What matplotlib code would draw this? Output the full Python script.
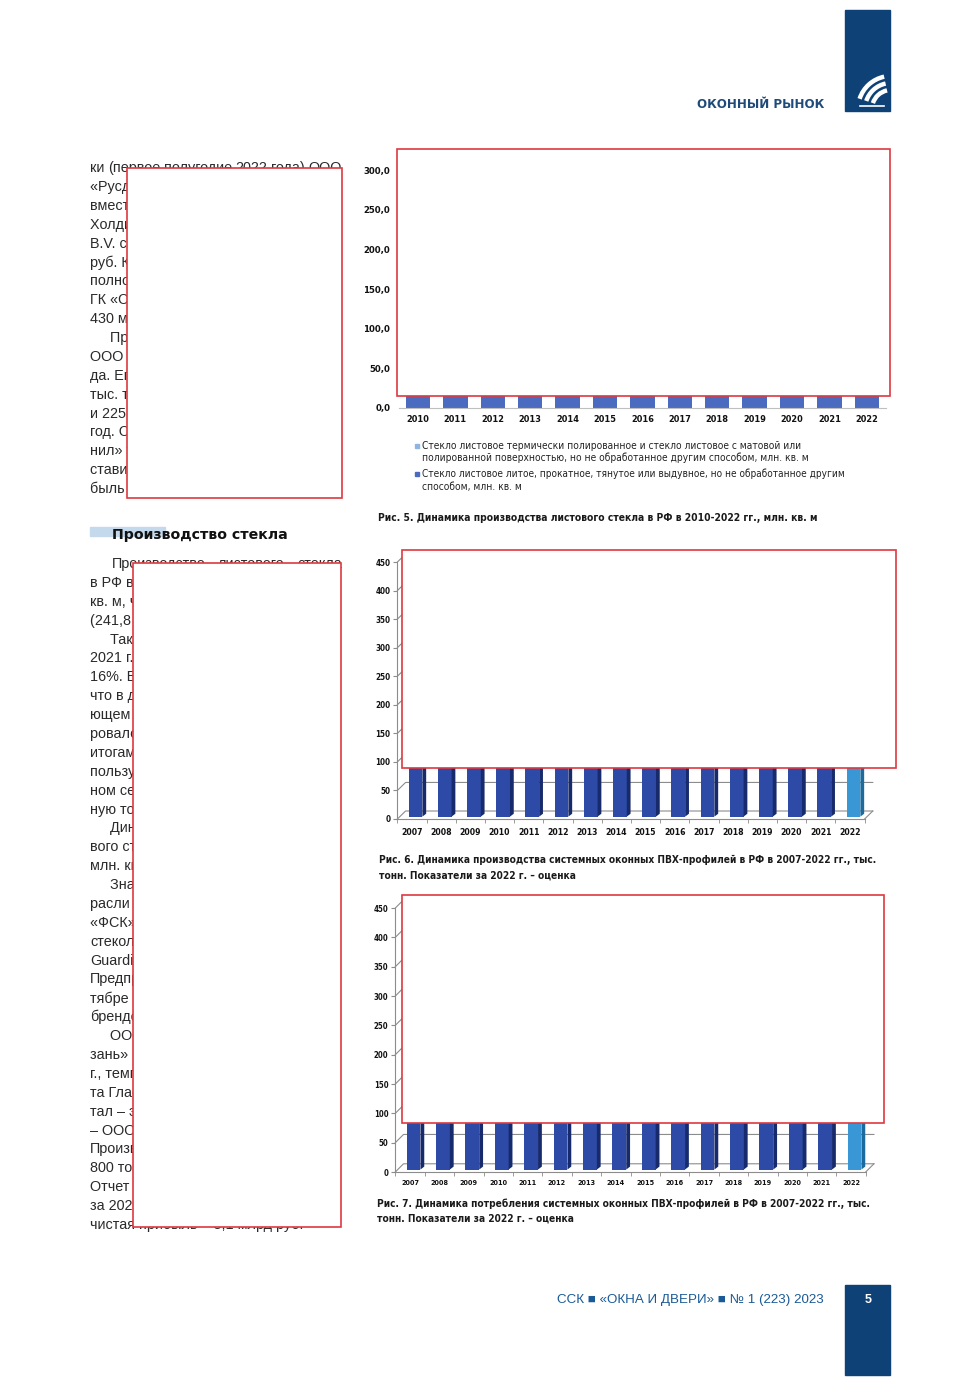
import numpy as np
import matplotlib.pyplot as plt
from matplotlib import font_manager
from matplotlib.font_manager import FontProperties
from matplotlib.patches import Rectangle, Arc
from matplotlib.collections import PolyCollection

W, H = 980, 1385

# данные: рис. 5 (стекло, млн кв. м) - верх столбцов закрыт на странице
glass_years = ["2010", "2011", "2012", "2013", "2014", "2015", "2016",
               "2017", "2018", "2019", "2020", "2021", "2022"]
glass_float = [172, 180, 188, 195, 201, 196, 190, 199, 208, 214, 210, 224, 206]
glass_rolled = [21, 22, 21, 22, 23, 22, 21, 22, 23, 22, 21, 23, 22]
glass_ticks = [0, 50, 100, 150, 200, 250, 300]

# рис. 6 и 7 (ПВХ-профили, тыс. тонн)
pvc_years = ["2007", "2008", "2009", "2010", "2011", "2012", "2013", "2014",
             "2015", "2016", "2017", "2018", "2019", "2020", "2021", "2022"]
pvc_prod = [300, 330, 250, 300, 340, 370, 380, 360, 290, 280, 285, 290, 280, 270, 300, 260]
pvc_cons = [390, 420, 300, 350, 400, 420, 430, 400, 310, 295, 300, 305, 295, 285, 310, 270]
pvc_ticks = [0, 50, 100, 150, 200, 250, 300, 350, 400, 450]


# узкий шрифт, если найдётся
def pick_narrow(bold):
    prefs = ["LiberationSansNarrow", "ArialNarrow", "Arial Narrow", "DejaVuSansCondensed",
             "NotoSans-Condensed", "Condensed", "Narrow"]
    fonts = font_manager.fontManager.ttflist
    for key in prefs:
        for f in fonts:
            fn = f.fname.split("/")[-1]
            if key not in fn:
                continue
            low = fn.lower()
            if "italic" in low or "oblique" in low or "light" in low or "thin" in low:
                continue
            if "semi" in low or "extra" in low or "black" in low or "medium" in low:
                continue
            if bold and "bold" in low:
                return f.fname
            if not bold and "bold" not in low:
                return f.fname
    return None


nb = pick_narrow(True)
nr = pick_narrow(False)
FP_B = FontProperties(fname=nb) if nb else FontProperties(family="Liberation Sans", weight="bold")
FP_R = FontProperties(fname=nr) if nr else FontProperties(family="Liberation Sans")

BODY = "Liberation Sans"
NAVY = "#0E4277"
TXT = "#2a2a2a"

fig = plt.figure(figsize=(W / 100, H / 100), dpi=100)
fig.patch.set_facecolor("white")


def px_axes(l, t, r, b):
    return fig.add_axes([l / W, 1 - b / H, (r - l) / W, (b - t) / H])


def ntext(ax, x, y, s, fp, size, **kw):
    t = ax.text(x, y, s, fontproperties=fp.copy(), **kw)
    t.set_fontsize(size)
    return t


page = px_axes(0, 0, W, H)
page.set_xlim(0, W)
page.set_ylim(H, 0)
page.axis("off")

# --- шапка
page.add_patch(Rectangle((845, 10), 45, 101, color=NAVY))
for rad in [19, 26, 33]:
    page.add_patch(Arc((891, 109), 2 * rad, 2 * rad, theta1=198, theta2=258,
                       color="white", lw=3.2))
page.plot([860, 884], [106, 106], color="white", lw=1.2)
hdr = page.text(697, 105, "ОКОННЫЙ РЫНОК", fontsize=9, fontweight="bold",
                family="DejaVu Sans", color="#1F4B7A", va="center")

# --- левая колонка
col1 = ["ки (первое полугодие 2022 года) ООО", "«Русджам Стекольная", "вместе с ООО «Русджам",
        "Холдинг» и Paşabahçe", "B.V. с выручкой более", "руб. Компания являет",
        "полноправным участн", "ГК «Стекольный союз»", "430 млн руб.",
        "     Производителем", "ООО «Саратовстройст", "да. Его мощности сос",
        "тыс. т стекла в год, в", "и 225 тыс. т в год.", "год. Стеклозавод",
        "нил» также вошел", "ставив выручку", "быль и так далее"]
col2 = ["Производство листового стекла", "в РФ в 2022 г. составило", "кв. м, что на",
        "(241,8 млн кв. м).", "     Также в", "2021 г. выпуск", "16%. В то же",
        "что в данном", "ющем году", "ровалось по", "итогам года",
        "пользуется", "ном сегменте", "ную тоннаж", "     Динамика",
        "вого стекла", "млн. кв. м", "     Значения", "расли в",
        "«ФСК» и", "стекольный", "Guardian", "Предприятие",
        "тябре года", "брендом", "     ООО", "зань» в",
        "г., темп", "та Гласс", "тал – это", "– ООО «Са",
        "Производство", "800 тонн", "Отчет о", "за 2021 г.",
        "чистая прибыль – 3,1 млрд руб."]
pitch = 18.886
body_kw = dict(fontsize=10.4, family=BODY, color=TXT, va="center")
justified = []
for i, line in enumerate(col1):
    y = 168 + i * pitch
    if i == 0:
        justified.append((90, 342, y, line))
    else:
        page.text(90, y, line, **body_kw)
for i, line in enumerate(col2):
    y = 564 + i * pitch
    if i == 0:
        justified.append((112, 342, y, line))
    else:
        page.text(90, y, line, **body_kw)
just_words = []
for x0, x1, y, line in justified:
    words = [page.text(x0, y, w, **body_kw) for w in line.split()]
    just_words.append((x0, x1, words))

page.add_patch(Rectangle((90, 527), 75, 9, color="#C5D9EC"))
head = page.text(112, 535, "Производство стекла", fontsize=10, fontweight="bold",
                 family="DejaVu Sans", color="#111111", va="center")

# --- рис. 5
ax1 = px_axes(399.3, 162.1, 885.5, 408)
x = np.arange(len(glass_years))
ax1.bar(x, glass_rolled, 0.65, color="#4A6BBF")
ax1.bar(x, glass_float, 0.65, bottom=glass_rolled, color="#8EB4E3")
ax1.set_xlim(-0.5, len(glass_years) - 0.5)
ax1.set_ylim(0, 310)
for s in ["top", "right", "left"]:
    ax1.spines[s].set_visible(False)
ax1.spines["bottom"].set_color("#BFBFBF")
ax1.set_yticks(glass_ticks)
ax1.set_yticklabels([f"{v},0" for v in glass_ticks])
ax1.set_xticks(x)
ax1.set_xticklabels(glass_years)
ax1.tick_params(axis="y", length=0, pad=6.5)
ax1.tick_params(axis="x", length=0, pad=5)
for lab in ax1.get_yticklabels():
    lab.set_fontproperties(FP_B.copy())
    lab.set_fontsize(6.8)
    lab.set_color("#111111")
for lab in ax1.get_xticklabels():
    lab.set_fontproperties(FP_B.copy())
    lab.set_fontsize(6.6)
    lab.set_color("#111111")

leg_lines = [
    (446, "Стекло листовое термически полированное и стекло листовое с матовой или", 800, "#8EB4E3"),
    (458, "полированной поверхностью, но не обработанное другим способом, млн. кв. м", 808, None),
    (474, "Стекло листовое литое, прокатное, тянутое или выдувное, но не обработанное другим", 843, "#4A6BBF"),
    (487, "способом, млн. кв. м", 522, None),
]
to_fit = []
for y, s, xend, col in leg_lines:
    if col:
        page.add_patch(Rectangle((415, y - 2.5), 4, 4, color=col))
    t = ntext(page, 422, y, s, FP_R, 6.5, color="#222222", va="center")
    to_fit.append((t, xend - 422))

caps = [
    (378, 518, "Рис. 5. Динамика производства листового стекла в РФ в 2010-2022 гг., млн. кв. м", 818),
    (379, 860, "Рис. 6. Динамика производства системных оконных ПВХ-профилей в РФ в 2007-2022 гг., тыс.", 877),
    (379, 876, "тонн. Показатели за 2022 г. – оценка", 576),
    (377, 1204, "Рис. 7. Динамика потребления системных оконных ПВХ-профилей в РФ в 2007-2022 гг., тыс.", 875),
    (377, 1219, "тонн. Показатели за 2022 г. – оценка", 574),
]
for x0, y, s, xend in caps:
    t = ntext(page, x0, y, s, FP_B, 8, color="#1a1a1a", va="center")
    to_fit.append((t, xend - x0))


# --- рис. 6 и 7: объёмные столбцы
def pvc_chart(l, t, r, b, values, ylab, xlab, xpad):
    ax = px_axes(l, t, r, b)
    n = len(values)
    xs = np.arange(n)
    dx, dy = 0.28, 14
    ax.set_xlim(-0.5, n)
    ax.set_ylim(0, 470)
    grid = "#8C8C8C"
    for v in pvc_ticks:
        ax.plot([-0.5, -0.5 + dx, n - 0.5 + dx], [v, v + dy, v + dy],
                color=grid, lw=0.8, zorder=1, clip_on=False)
    ax.plot([n - 0.5, n - 0.5 + dx], [0, dy], color=grid, lw=0.8, zorder=1)
    fronts = ["#2D4BA6"] * (n - 1) + ["#3A97D6"]
    sides = ["#172A6B"] * (n - 1) + ["#1D6B9E"]
    base = dy * 0.3
    off, w, sw, sh = 0.12, 0.47, 0.13, 5
    ax.bar(xs + off, values, w, bottom=base, color=fronts, zorder=3)
    polys = []
    tops = []
    for xi, v in zip(xs, values):
        xr = xi + off + w / 2
        xl = xi + off - w / 2
        polys.append([(xr, base), (xr + sw, base + sh), (xr + sw, base + v + sh), (xr, base + v)])
        tops.append([(xl, base + v), (xl + sw, base + v + sh), (xr + sw, base + v + sh), (xr, base + v)])
    ax.add_collection(PolyCollection(polys, facecolors=sides, edgecolors="none", zorder=3))
    ax.add_collection(PolyCollection(tops, facecolors=fronts, edgecolors="none", zorder=3))
    for s in ["top", "right"]:
        ax.spines[s].set_visible(False)
    ax.spines["left"].set_bounds(0, 450)
    ax.spines["bottom"].set_bounds(-0.5, n - 0.5)
    for s in ["left", "bottom"]:
        ax.spines[s].set_color(grid)
        ax.spines[s].set_linewidth(0.8)
    ax.set_yticks(pvc_ticks)
    ax.set_xticks(xs)
    ax.set_xticklabels(pvc_years)
    ax.set_xticks(np.arange(n + 1) - 0.5, minor=True)
    ax.tick_params(axis="x", which="major", length=0, pad=xpad)
    ax.tick_params(axis="x", which="minor", length=3, color=grid)
    ax.tick_params(axis="y", length=3, color=grid, pad=2)
    for lab in ax.get_xticklabels() + ax.get_yticklabels():
        lab.set_fontproperties(FP_B.copy())
        lab.set_color("#111111")
    for lab in ax.get_yticklabels():
        lab.set_fontsize(ylab)
    for lab in ax.get_xticklabels():
        lab.set_fontsize(xlab)
    return ax


pvc_chart(397.4, 550.6, 879.2, 819, pvc_prod, 5.8, 6.2, 6.5)
pvc_chart(395.3, 896.3, 880.4, 1172, pvc_cons, 5.6, 5.2, 5.5)

# --- подвал
page.add_patch(Rectangle((845, 1285), 45, 90, color=NAVY))
page.text(868, 1300, "5", fontsize=9, fontweight="bold", family=BODY, color="white",
          ha="center", va="center")
foot = page.text(557, 1300, "ССК ■ «ОКНА И ДВЕРИ» ■ № 1 (223) 2023", fontsize=10,
                 family=[BODY, "DejaVu Sans"], color="#1A5A96", va="center")
to_fit += [(hdr, 126), (head, 175), (foot, 266)]

# закрашенные области поверх всего
top = px_axes(0, 0, W, H)
top.set_xlim(0, W)
top.set_ylim(H, 0)
top.axis("off")
top.patch.set_alpha(0)
for l, t, r, b in [(397, 149, 890, 396), (127, 168, 342, 498), (133, 563, 341, 1227),
                   (402, 550, 896, 768), (402, 895, 884, 1123)]:
    top.add_patch(Rectangle((l, t), r - l, b - t, facecolor="white",
                            edgecolor="#DD3A3F", lw=1.2))

fig.canvas.draw()
rend = fig.canvas.get_renderer()
for t, width in to_fit:
    w = t.get_window_extent(rend).width
    t.set_fontsize(t.get_fontsize() * width / w)

# выключка по ширине для первых строк абзацев
for x0, x1, words in just_words:
    widths = [wt.get_window_extent(rend).width for wt in words]
    gap = (x1 - x0 - sum(widths)) / max(len(words) - 1, 1)
    pos = x0
    for wt, wd in zip(words, widths):
        wt.set_x(pos)
        pos += wd + gap

fig.savefig("out.png", dpi=100)
